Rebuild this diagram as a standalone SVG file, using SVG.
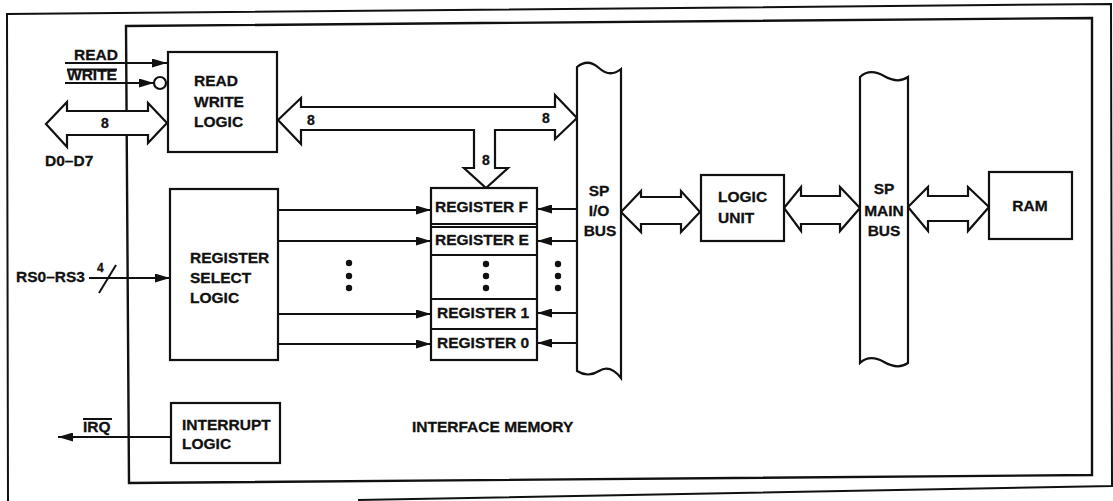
<svg xmlns="http://www.w3.org/2000/svg" width="1113" height="501" viewBox="0 0 1113 501">
<defs>
<marker id="ah" markerUnits="userSpaceOnUse" markerWidth="15" markerHeight="9" refX="15" refY="4.5" orient="auto">
<path d="M0,0 L15,4.5 L0,9 Z" fill="#111"/>
</marker>
</defs>
<style>
.t{font-family:"Liberation Sans",Arial,Helvetica,sans-serif;font-weight:bold;font-size:15.5px;fill:#111;stroke:#111;stroke-width:0.3}
.s{font-size:14px}
.c{text-anchor:middle}
.box{fill:#fff;stroke:#111;stroke-width:2.2}
.ln{fill:none;stroke:#111;stroke-width:2}
.ar{fill:#fff;stroke:#111;stroke-width:2.2;stroke-linejoin:miter}
.dot{fill:#111}
</style>
<rect width="1113" height="501" fill="#fff"/>
<g id="frames">
<path class="ln" d="M8,501 L7,14 L1111,4 L1112,486 M358,500 L1113,486"/>
<polygon class="ln" points="126,26 1092,18 1092,475 129,483" style="stroke-width:2.4"/>
</g>
<g id="connectors">
<line class="ln" x1="65" y1="63" x2="167" y2="63" marker-end="url(#ah)"/>
<line class="ln" x1="65" y1="83" x2="154" y2="83" marker-end="url(#ah)"/>
<circle cx="160" cy="83" r="6" fill="#fff" stroke="#111" stroke-width="2.2"/>
<polygon class="ar" points="46,124 67,102 67,111 148,111 148,103 167,123 148,143 148,135 67,135 67,147"/>
<polygon class="ar" points="278,120 301,98 301,107 555,107 555,95 577,118 555,139 555,130 495,130 495,168 508,168 486,188 464,168 474,168 474,130 301,130 301,144"/>
<line class="ln" x1="89" y1="278" x2="170" y2="278" marker-end="url(#ah)"/>
<line class="ln" x1="99" y1="293" x2="116" y2="265"/>
<line class="ln" x1="171" y1="437" x2="58" y2="437" marker-end="url(#ah)"/>
<line class="ln" x1="277" y1="210" x2="431" y2="210" marker-end="url(#ah)"/>
<line class="ln" x1="277" y1="241" x2="431" y2="241" marker-end="url(#ah)"/>
<line class="ln" x1="277" y1="314" x2="431" y2="314" marker-end="url(#ah)"/>
<line class="ln" x1="277" y1="344" x2="431" y2="344" marker-end="url(#ah)"/>
<line class="ln" x1="577" y1="209" x2="537" y2="209" marker-end="url(#ah)"/>
<line class="ln" x1="577" y1="241" x2="537" y2="241" marker-end="url(#ah)"/>
<line class="ln" x1="577" y1="313" x2="537" y2="313" marker-end="url(#ah)"/>
<line class="ln" x1="577" y1="343" x2="537" y2="343" marker-end="url(#ah)"/>
<polygon class="ar" points="621,212 641,191 641,197 681,197 681,191 700,212 681,232 681,224 641,224 641,232"/>
<polygon class="ar" points="784,208 801,187 801,196 840,196 840,187 860,208 840,231 840,224 801,224 801,231"/>
<polygon class="ar" points="908,207 928,187 928,196 968,196 968,187 989,207 968,231 968,221 928,221 928,231"/>
<g class="dot">
<circle cx="349" cy="263" r="3.2"/><circle cx="349" cy="276" r="3.2"/><circle cx="349" cy="288" r="3.2"/>
<circle cx="558" cy="264" r="3.2"/><circle cx="558" cy="276" r="3.2"/><circle cx="558" cy="288" r="3.2"/>
</g>
</g>
<g id="labels">
<text class="t" x="74" y="60">READ</text>
<text class="t" x="67" y="80">WRITE</text>
<line class="ln" x1="67" y1="69.5" x2="117" y2="69.5"/>
<text class="t s c" x="105" y="128">8</text>
<text class="t" x="45" y="166">D0–D7</text>
<text class="t s" x="307" y="125">8</text>
<text class="t s" x="542" y="123">8</text>
<text class="t s c" x="486" y="165">8</text>
<text class="t" x="16" y="282">RS0–RS3</text>
<text class="t" x="97" y="272" style="font-size:12px">4</text>
<text class="t" x="83" y="432">IRQ</text>
<line class="ln" x1="83" y1="419" x2="112" y2="419"/>
<text class="t" x="412" y="432">INTERFACE MEMORY</text>
</g>
<g id="rw-logic">
<rect class="box" x="168" y="52" width="109" height="100"/>
<text class="t" x="194" y="86">READ</text>
<text class="t" x="194" y="107">WRITE</text>
<text class="t" x="194" y="127">LOGIC</text>
</g>
<g id="register-select">
<rect class="box" x="170" y="189" width="108" height="171"/>
<text class="t" x="190" y="263">REGISTER</text>
<text class="t" x="190" y="283">SELECT</text>
<text class="t" x="190" y="303">LOGIC</text>
</g>
<g id="interrupt-logic">
<rect class="box" x="171" y="403" width="109" height="60"/>
<text class="t" x="182" y="430">INTERRUPT</text>
<text class="t" x="182" y="449">LOGIC</text>
</g>
<g id="registers">
<rect class="box" x="431" y="188" width="106" height="172"/>
<path class="ln" d="M431,224 H537 M431,227 H537 M431,255 H537 M431,299 H537 M431,329 H537"/>
<text class="t" x="435" y="212">REGISTER F</text>
<text class="t" x="435" y="245">REGISTER E</text>
<circle class="dot" cx="486" cy="264" r="3.2"/><circle class="dot" cx="486" cy="276" r="3.2"/><circle class="dot" cx="486" cy="288" r="3.2"/>
<text class="t" x="437" y="318">REGISTER 1</text>
<text class="t" x="437" y="348">REGISTER 0</text>
</g>
<g id="sp-io-bus">
<path class="box" d="M577,371 V67 Q588,58 599,68 T621,69 V378 Q610,364 599,371 T577,371 Z"/>
<text class="t c" x="599" y="196">SP</text>
<text class="t c" x="599" y="216">I/O</text>
<text class="t c" x="600" y="236">BUS</text>
</g>
<g id="logic-unit">
<rect class="box" x="701" y="175" width="83" height="66"/>
<text class="t" x="718" y="202">LOGIC</text>
<text class="t" x="718" y="223">UNIT</text>
</g>
<g id="sp-main-bus">
<path class="box" d="M860,363 V77 Q870,68 884,76 T908,77 V363 Q898,370 884,362 T860,363 Z"/>
<text class="t c" x="884" y="194">SP</text>
<text class="t c" x="884" y="216">MAIN</text>
<text class="t c" x="884" y="236">BUS</text>
</g>
<g id="ram">
<rect class="box" x="989" y="172" width="83" height="67"/>
<text class="t c" x="1030" y="211">RAM</text>
</g>
</svg>
